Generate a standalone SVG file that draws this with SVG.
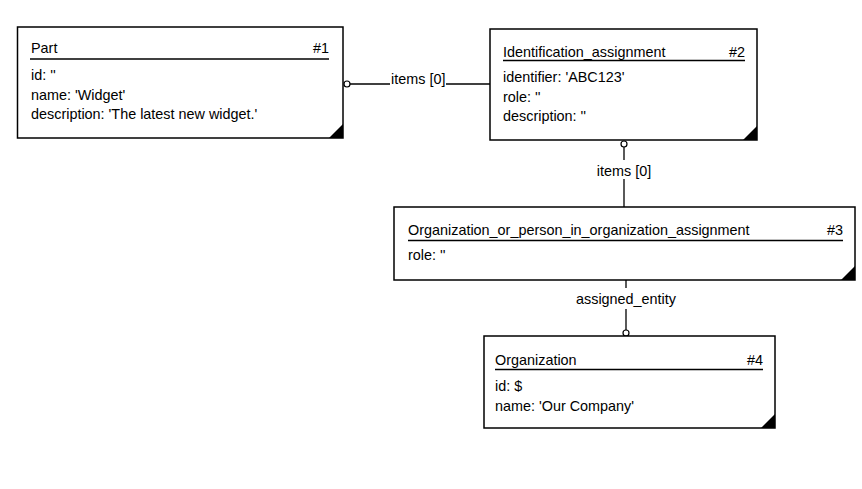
<svg xmlns="http://www.w3.org/2000/svg" width="862" height="489" viewBox="0 0 862 489">
<style>
.box{fill:#fff;stroke:#000;stroke-width:1.5}
.tri{fill:#000}
.t{font-family:"Liberation Sans",Arial,sans-serif;font-size:14.4px;fill:#000}
.e{text-anchor:end}
.m{text-anchor:middle}
.ul{stroke:#000;stroke-width:1.5}
.c{stroke:#000;stroke-width:1.3;fill:none}
.o{fill:#fff;stroke:#000;stroke-width:1.2}
</style>
<rect width="862" height="489" fill="#fff"/>
<g id="connectors">
<circle class="o" cx="347" cy="84" r="3"/>
<line class="c" x1="350" y1="84" x2="390" y2="84"/>
<text class="t" x="391" y="84">items [0]</text>
<line class="c" x1="446" y1="84" x2="490" y2="84"/>
<circle class="o" cx="624" cy="144" r="3"/>
<line class="c" x1="624" y1="147" x2="624" y2="160"/>
<text class="t m" x="624" y="176">items [0]</text>
<line class="c" x1="624" y1="179" x2="624" y2="207"/>
<line class="c" x1="626" y1="280" x2="626" y2="288"/>
<text class="t m" x="626" y="304">assigned_entity</text>
<line class="c" x1="626" y1="309" x2="626" y2="330"/>
<circle class="o" cx="626" cy="333" r="3"/>
</g>
<g id="node1">
<rect class="box" x="17.5" y="27" width="325.5" height="111"/>
<polygon class="tri" points="343,124 343,138 329,138"/>
<text class="t" x="31" y="53">Part</text>
<text class="t e" x="329" y="53">#1</text>
<line class="ul" x1="30" y1="59" x2="329" y2="59"/>
<text class="t" x="31" y="80">id: ''</text>
<text class="t" x="31" y="99.5">name: 'Widget'</text>
<text class="t" x="31" y="118.5">description: 'The latest new widget.'</text>
</g>
<g id="node2">
<rect class="box" x="490" y="29" width="267" height="111"/>
<polygon class="tri" points="757,126 757,140 743,140"/>
<text class="t" x="503" y="57">Identification_assignment</text>
<text class="t e" x="745" y="57">#2</text>
<line class="ul" x1="503" y1="60.5" x2="745" y2="60.5"/>
<text class="t" x="503" y="82">identifier: 'ABC123'</text>
<text class="t" x="503" y="102">role: ''</text>
<text class="t" x="503" y="121">description: ''</text>
</g>
<g id="node3">
<rect class="box" x="394" y="207" width="461" height="73"/>
<polygon class="tri" points="855,266 855,280 841,280"/>
<text class="t" x="408" y="235">Organization_or_person_in_organization_assignment</text>
<text class="t e" x="843" y="235">#3</text>
<line class="ul" x1="408" y1="240.5" x2="843" y2="240.5"/>
<text class="t" x="408" y="260">role: ''</text>
</g>
<g id="node4">
<rect class="box" x="484" y="336" width="291" height="92"/>
<polygon class="tri" points="775,414 775,428 761,428"/>
<text class="t" x="495" y="365">Organization</text>
<text class="t e" x="763" y="365">#4</text>
<line class="ul" x1="495" y1="369.5" x2="763" y2="369.5"/>
<text class="t" x="495" y="391">id: $</text>
<text class="t" x="495" y="411">name: 'Our Company'</text>
</g>
</svg>
